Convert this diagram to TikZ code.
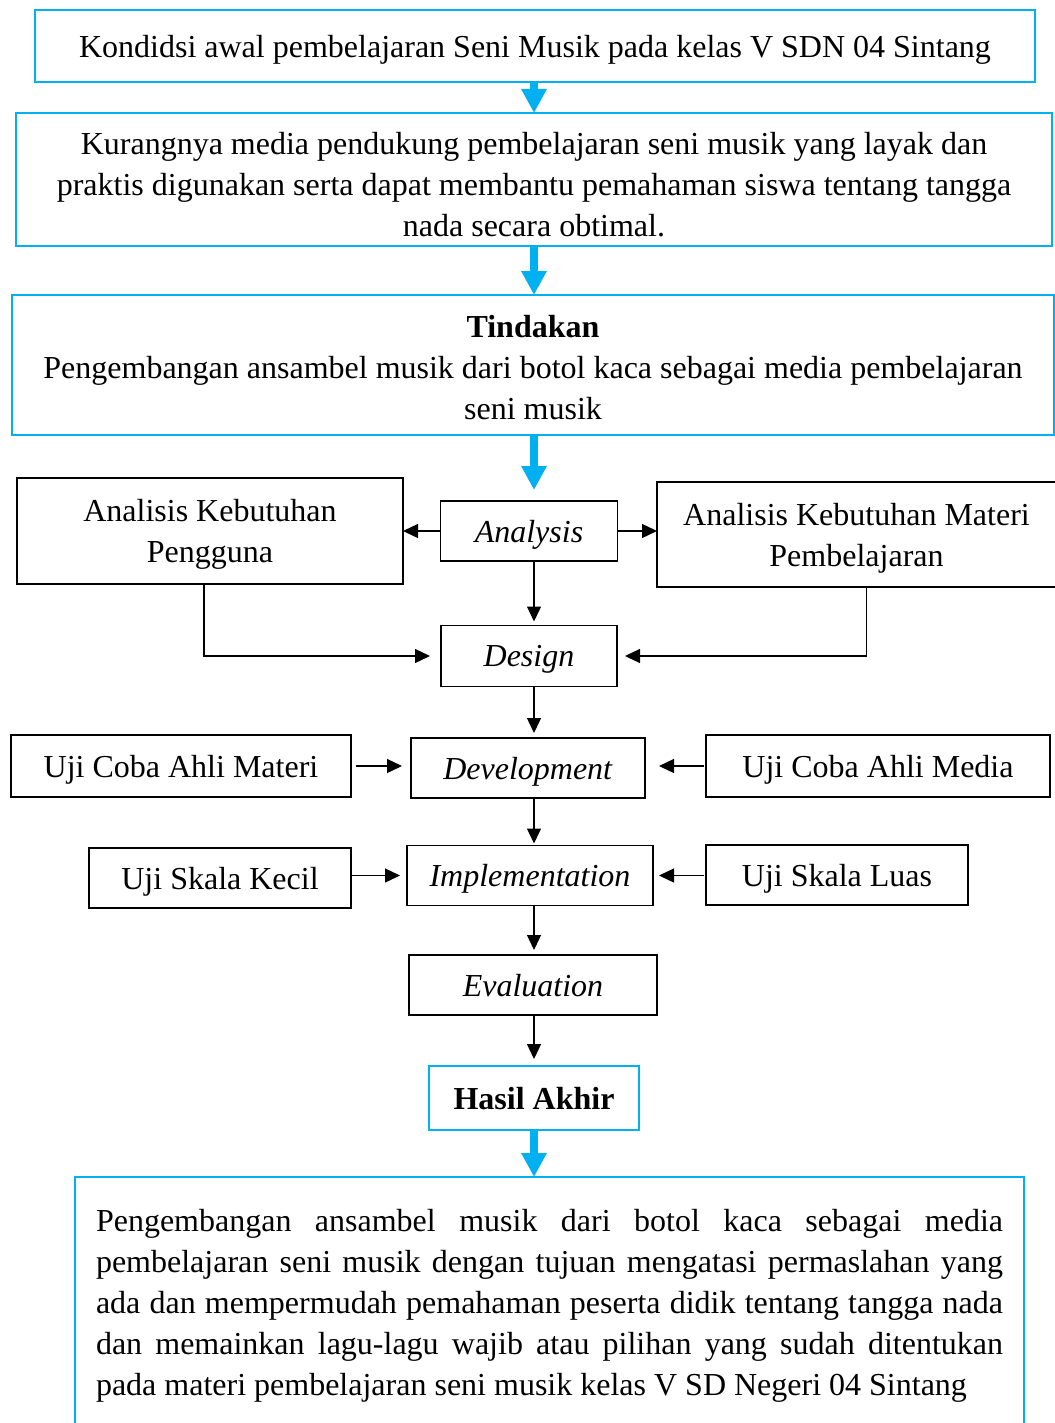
\documentclass[tikz,border=0pt]{standalone}
\usepackage{fontspec}
\setmainfont{Liberation Serif}
\usetikzlibrary{arrows.meta}
\definecolor{sky}{HTML}{00B0F0}
\begin{document}
\begin{tikzpicture}[x=1pt,y=-1pt,
  every node/.style={font=\fontsize{32}{41}\selectfont, inner sep=0pt, outer sep=0pt, align=center, text depth=0pt},
  bluebox/.style={draw=sky, line width=2.5pt, rectangle},
  blackbox/.style={draw=black, line width=1.8pt, rectangle},
  bluearrow/.style={draw=sky, line width=8pt, -{Triangle[length=24pt,width=24pt]}},
  arr/.style={draw=black, line width=1.3pt, -{Triangle[length=15pt,width=14pt]}}]
\useasboundingbox (0,0) rectangle (1054,1423);
\coordinate (axis) at (534,0);
% blue boxes
\node[bluebox, minimum width=1000pt, minimum height=72pt] (b1) at (535,46)
  {Kondidsi awal pembelajaran Seni Musik pada kelas V SDN 04 Sintang};
\node[bluebox, minimum width=1036pt, minimum height=133pt] (b2) at (534,179.5) {};
\node (b2text) at (534,184)
  {Kurangnya media pendukung pembelajaran seni musik yang layak dan\\
   praktis digunakan serta dapat membantu pemahaman siswa tentang tangga\\
   nada secara obtimal.};
\node[bluebox, minimum width=1042pt, minimum height=140pt] (b3) at (533,365) {};
\node (b3text) at (533,367)
  {\textbf{Tindakan}\\
   Pengembangan ansambel musik dari botol kaca sebagai media pembelajaran\\
   seni musik};
% ADDIE boxes
\node[blackbox, minimum width=177pt, minimum height=60pt] (analysis) at (529,531) {\textit{Analysis}};
\node[blackbox, minimum width=386pt, minimum height=106pt] (akp) at (210,531) {Analisis Kebutuhan\\Pengguna};
\node[blackbox, minimum width=399pt, minimum height=105pt] (akmp) at (856.5,534.5) {Analisis Kebutuhan Materi\\Pembelajaran};
\node[blackbox, minimum width=176pt, minimum height=61pt] (design) at (529,656) {\textit{Design}};
\node[blackbox, minimum width=234pt, minimum height=60pt] (dev) at (528,768) {\textit{Development}};
\node[blackbox, minimum width=340pt, minimum height=62pt] (ucam) at (181,766) {Uji Coba Ahli Materi};
\node[blackbox, minimum width=344pt, minimum height=62pt] (ucamedia) at (878,766) {Uji Coba Ahli Media};
\node[blackbox, minimum width=246pt, minimum height=60pt] (impl) at (530,875.5) {\textit{Implementation}};
\node[blackbox, minimum width=262pt, minimum height=60pt] (usk) at (220,878) {Uji Skala Kecil};
\node[blackbox, minimum width=262pt, minimum height=60pt] (usl) at (837,875) {Uji Skala Luas};
\node[blackbox, minimum width=248pt, minimum height=60pt] (eval) at (533,985) {\textit{Evaluation}};
\node[bluebox, minimum width=210pt, minimum height=64pt] (hasil) at (534,1098) {\textbf{Hasil Akhir}};
\node[bluebox, minimum width=949pt, minimum height=280pt, anchor=north] (final) at (549.5,1177) {};
\node[anchor=north west, align=left] (finaltext) at (96,1209) {%
  \makebox[907pt][s]{Pengembangan ansambel musik dari botol kaca sebagai media}\\
  \makebox[907pt][s]{pembelajaran seni musik dengan tujuan mengatasi permaslahan yang}\\
  \makebox[907pt][s]{ada dan mempermudah pemahaman peserta didik tentang tangga nada}\\
  \makebox[907pt][s]{dan memainkan lagu-lagu wajib atau pilihan yang sudah ditentukan}\\
  pada materi pembelajaran seni musik kelas V SD Negeri 04 Sintang};
% blue arrows
\draw[bluearrow] (b1.south -| axis) -- (b2.north -| axis);
\draw[bluearrow] (b2.south -| axis) -- (b3.north -| axis);
\coordinate (c3) at (534,490);
\draw[bluearrow] (b3.south -| axis) -- (c3);
\draw[bluearrow] (hasil.south -| axis) -- (final.north -| axis);
% black arrows
\draw[arr] (analysis.west) -- (akp.east |- analysis.west);
\draw[arr] (analysis.east) -- (analysis.east -| akmp.west);
\draw[arr, shorten >=4pt] (analysis.south -| axis) -- (design.north -| axis);
\draw[arr, shorten >=11pt] ([xshift=-6pt]akp.south) |- (design.west);
\draw[arr, shorten >=8pt] ([xshift=10pt]akmp.south) |- (design.east);
\draw[arr, shorten >=5pt] (design.south -| axis) -- (dev.north -| axis);
\draw[arr, shorten <=5pt, shorten >=9pt] (ucam.east) -- (ucam.east -| dev.west);
\draw[arr, shorten <=2pt, shorten >=14pt] (ucamedia.west) -- (ucamedia.west -| dev.east);
\draw[arr, shorten >=2pt] (dev.south -| axis) -- (impl.north -| axis);
\draw[arr, shorten >=7pt] (usk.east |- impl.west) -- (impl.west);
\draw[arr, shorten <=2pt, shorten >=6pt] (usl.west |- impl.east) -- (impl.east);
\draw[arr, shorten >=5pt] (impl.south -| axis) -- (eval.north -| axis);
\draw[arr, shorten >=7pt] (eval.south -| axis) -- (hasil.north -| axis);
\end{tikzpicture}
\end{document}
